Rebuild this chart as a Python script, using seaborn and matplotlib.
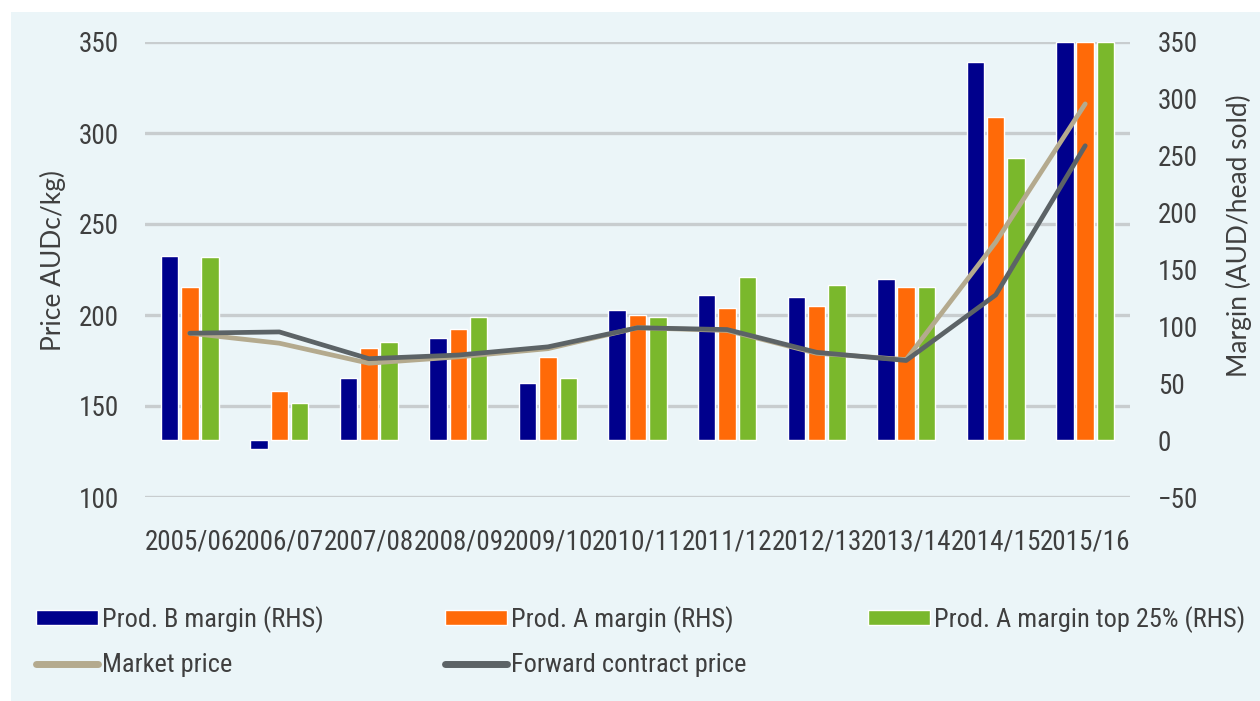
import numpy as np
import pandas as pd
import matplotlib
matplotlib.use("Agg")
import matplotlib.pyplot as plt
import seaborn as sns
from matplotlib import font_manager
from matplotlib.patches import Patch, Rectangle
from matplotlib.lines import Line2D

# ---- data -------------------------------------------------------------
years = ["2005/06", "2006/07", "2007/08", "2008/09", "2009/10", "2010/11",
         "2011/12", "2012/13", "2013/14", "2014/15", "2015/16"]

# margins, AUD/head sold (right-hand scale)
prod_b_margin = [162, -8, 55, 90, 50, 114, 128, 126, 142, 332, 350]
prod_a_margin = [135, 43, 81, 98, 73, 110, 116, 118, 135, 284, 350]
prod_a_top25_margin = [161, 33, 86, 108, 55, 108, 143, 136, 135, 248, 350]

# prices, AUDc/kg (left-hand scale)
market_price = [190, 184.5, 173.5, 177, 181.5, 193, 191.5, 179, 175.5, 240, 316]
forward_price = [190, 190.7, 176, 178, 182.5, 193, 192, 179.5, 175, 211, 293]

price_ticks = [100, 150, 200, 250, 300, 350]
margin_ticks = [-50, 0, 50, 100, 150, 200, 250, 300, 350]

bar_series = ["Prod. B margin (RHS)", "Prod. A margin (RHS)",
              "Prod. A margin top 25% (RHS)"]
line_series = ["Market price", "Forward contract price"]

# ---- style ------------------------------------------------------------
bar_colors = ["#00008C", "#FF6A08", "#7AB82C"]
market_color = "#B4AA8E"
forward_color = "#5C6366"
bg_color = "#EBF5F8"
grid_color = "#C8CDCF"
text_color = "#3F3F3F"

sns.set_theme(style="white")
installed = {f.name for f in font_manager.fontManager.ttflist}
narrow_font = next((f for f in ["Liberation Sans Narrow", "Roboto Condensed",
                                "Open Sans Condensed", "Arial Narrow"]
                    if f in installed), "Liberation Sans")
label_font = "Lato" if "Lato" in installed else "DejaVu Sans"
plt.rcParams["font.family"] = [narrow_font, "DejaVu Sans"]

fig = plt.figure(figsize=(12.6, 7.01), dpi=100, facecolor="white")
fig.add_artist(Rectangle((11 / 1260, 0), 1, 1 - 12 / 701,
                         transform=fig.transFigure, facecolor=bg_color,
                         edgecolor="none", zorder=-10))

# base axes: price scale, gridlines and x labels
ax = fig.add_axes([145 / 1260, 1 - 497 / 701, 985 / 1260, 455 / 701])
ax.set_facecolor("none")
ax.set_ylim(price_ticks[0], price_ticks[-1])
ax.set_yticks(price_ticks)
ax.yaxis.grid(True, color=grid_color, linewidth=2.4)
ax.set_axisbelow(True)
for s in ax.spines.values():
    s.set_visible(False)

# margin bars on the right-hand scale
ax_bars = ax.twinx()
bars_df = pd.DataFrame({
    "year": years * 3,
    "series": np.repeat(bar_series, len(years)),
    "margin": prod_b_margin + prod_a_margin + prod_a_top25_margin,
})
sns.barplot(data=bars_df, x="year", y="margin", hue="series",
            hue_order=bar_series, palette=dict(zip(bar_series, bar_colors)),
            saturation=1, width=0.68, gap=0.14, legend=False, ax=ax_bars)
ax_bars.set_ylim(margin_ticks[0], margin_ticks[-1])
ax_bars.set_yticks(margin_ticks)
ax_bars.set_ylabel("Margin (AUD/head sold)", family=label_font, fontsize=19,
                   color=text_color)
ax_bars.yaxis.set_label_coords(1.097, 0.575)
ax_bars.tick_params(axis="y", length=0, pad=20, labelsize=19.5,
                    labelcolor=text_color)
for lab in ax_bars.get_yticklabels():
    lab.set_horizontalalignment("left")
for s in ax_bars.spines.values():
    s.set_visible(False)

# price lines on top, sharing the left-hand scale
ax_lines = ax.twinx()
ax_lines.set_ylim(price_ticks[0], price_ticks[-1])
ax_lines.yaxis.set_visible(False)
for s in ax_lines.spines.values():
    s.set_visible(False)
pos = np.arange(len(years))
sns.lineplot(x=pos, y=market_price, color=market_color, linewidth=3.4,
             ax=ax_lines, legend=False)
sns.lineplot(x=pos, y=forward_price, color=forward_color, linewidth=3.4,
             ax=ax_lines, legend=False)

# axes labels and ticks on the base axes
ax.set_xlim(-0.5, len(years) - 0.5)
ax.set_xticks(pos)
ax.set_xticklabels(years)
ax.tick_params(axis="x", length=0, pad=23, labelsize=19.5,
               labelcolor=text_color)
ax.tick_params(axis="y", length=0, pad=19, labelsize=19.5,
               labelcolor=text_color)
ax.set_xlabel("")
ax.set_ylabel("Price AUDc/kg)", family=label_font, fontsize=19,
              color=text_color)
ax.yaxis.set_label_coords(-0.080, 0.52)

# legend below the plot
handles = [Patch(facecolor=bar_colors[0]),
           Line2D([], [], color=market_color, linewidth=5),
           Patch(facecolor=bar_colors[1]),
           Line2D([], [], color=forward_color, linewidth=5),
           Patch(facecolor=bar_colors[2])]
labels = [bar_series[0], line_series[0], bar_series[1], line_series[1],
          bar_series[2]]
fig.legend(handles, labels, loc="upper left",
           bbox_to_anchor=(36 / 1260, 1 - 606 / 701), ncol=3, frameon=False,
           fontsize=19, handlelength=2.35, handleheight=0.55,
           handletextpad=0.15, columnspacing=4.6, labelspacing=0.78,
           borderpad=0, borderaxespad=0, labelcolor=text_color)

fig.savefig("out.png", dpi=100, facecolor=fig.get_facecolor())
